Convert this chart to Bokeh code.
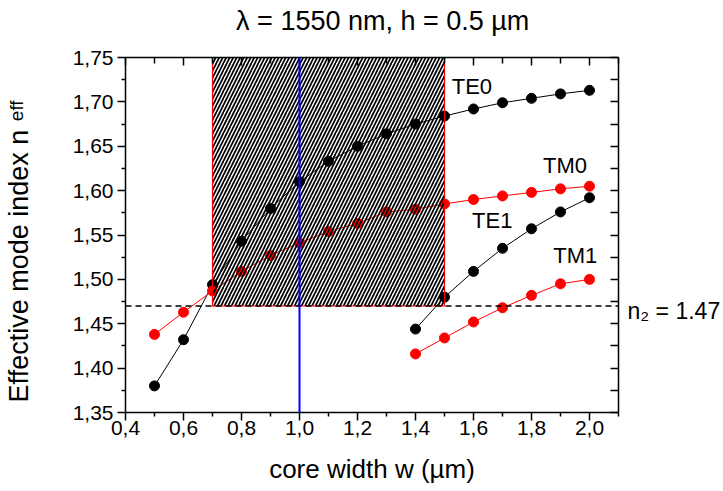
from bokeh.plotting import figure
from bokeh.models import LinearAxis, FixedTicker, CustomJSTickFormatter, Span, Label
from bokeh.embed import file_html
from bokeh.resources import INLINE

# ---------------- data ----------------
w_all = [0.5, 0.6, 0.7, 0.8, 0.9, 1.0, 1.1, 1.2, 1.3, 1.4, 1.5, 1.6, 1.7, 1.8, 1.9, 2.0]
te0 = [1.380, 1.432, 1.494, 1.543, 1.580, 1.610, 1.633, 1.650, 1.664, 1.675, 1.684, 1.692, 1.699, 1.704, 1.709, 1.713]
tm0 = [1.438, 1.463, 1.487, 1.509, 1.527, 1.541, 1.554, 1.563, 1.576, 1.579, 1.585, 1.590, 1.594, 1.598, 1.602, 1.605]
w_high = [1.4, 1.5, 1.6, 1.7, 1.8, 1.9, 2.0]
te1 = [1.444, 1.480, 1.509, 1.535, 1.557, 1.576, 1.592]
tm1 = [1.416, 1.434, 1.452, 1.468, 1.482, 1.495, 1.500]

x_ticks = [0.4, 0.6, 0.8, 1.0, 1.2, 1.4, 1.6, 1.8, 2.0]
x_minor = [0.5, 0.7, 0.9, 1.1, 1.3, 1.5, 1.7, 1.9, 2.1]
y_ticks = [1.35, 1.40, 1.45, 1.50, 1.55, 1.60, 1.65, 1.70, 1.75]
y_minor = [1.375, 1.425, 1.475, 1.525, 1.575, 1.625, 1.675, 1.725]

band_w = [0.7, 1.5]          # single-mode width window
band_n = [1.47, 1.75]
n2 = 1.47                    # cladding index
w_design = 1.0               # chosen width

title_text = "λ = 1550 nm, h = 0.5 µm"
xlabel = "core width w (µm)"
ylabel_main = "Effective mode index n"
ylabel_sub = "eff"
n2_text = "n₂ = 1.47"
mode_names = ["TE0", "TM0", "TE1", "TM1"]
mode_label_x = [1.525, 1.84, 1.595, 1.875]
mode_label_y = [1.717, 1.628, 1.566, 1.527]

# anchor positions of the side texts (in axis units)
title_at = 1.287
ylabel_main_at = 1.515
ylabel_sub_at = 1.690
n2_label_at = 1.464

FONT = "Liberation Sans"
RED = "#ff0000"

p = figure(width=723, height=491, x_range=(0.4, 2.1), y_range=(1.35, 1.75),
           output_backend="svg", toolbar_location=None,
           min_border_left=125, min_border_right=98, min_border_top=57, min_border_bottom=79)
p.outline_line_color = None
p.grid.visible = False
p.background_fill_color = "white"
p.border_fill_color = "white"

fmt_x = CustomJSTickFormatter(code="return tick.toFixed(1).replace('.', ',')")
fmt_y = CustomJSTickFormatter(code="return tick.toFixed(2).replace('.', ',')")
fmt_none = CustomJSTickFormatter(code="return ''")

def fixed_text(t):
    return CustomJSTickFormatter(args=dict(t=t), code="return t")

def style(ax, ticks, minor, fmt, inward):
    ax.ticker = FixedTicker(ticks=ticks, minor_ticks=minor)
    ax.formatter = fmt
    ax.axis_line_color = "black"
    ax.axis_line_width = 1.5
    ax.major_tick_line_color = "black"
    ax.major_tick_line_width = 1.5
    ax.minor_tick_line_color = "black"
    ax.minor_tick_line_width = 1.5
    if inward:
        ax.major_tick_in = 8
        ax.major_tick_out = 0
        ax.minor_tick_in = 6
        ax.minor_tick_out = 0
        ax.major_label_standoff = 0
    else:
        ax.major_tick_in = 0
        ax.major_tick_out = 8
        ax.minor_tick_in = 0
        ax.minor_tick_out = 4
    ax.major_label_text_font = FONT
    ax.major_label_text_font_size = "21px"
    ax.major_label_text_color = "black"

def text_axis(at, text, size, standoff, orientation):
    ax = LinearAxis(ticker=FixedTicker(ticks=[at], minor_ticks=[]), formatter=fixed_text(text))
    ax.axis_line_color = None
    ax.major_tick_line_color = None
    ax.minor_tick_line_color = None
    ax.major_tick_in = 0
    ax.major_tick_out = 0
    ax.major_label_orientation = orientation
    ax.major_label_standoff = standoff
    ax.major_label_text_font = FONT
    ax.major_label_text_font_size = size
    ax.major_label_text_color = "black"
    return ax

xa = p.xaxis[0]
ya = p.yaxis[0]
style(xa, x_ticks, x_minor, fmt_x, False)
style(ya, y_ticks, y_minor, fmt_y, False)
xa.major_label_standoff = 0
ya.major_label_standoff = 4
xa.axis_label = xlabel
xa.axis_label_text_font = FONT
xa.axis_label_text_font_size = "26px"
xa.axis_label_text_font_style = "normal"
xa.axis_label_text_color = "black"
xa.axis_label_standoff = 16

top = LinearAxis()
style(top, x_ticks, x_minor, fmt_none, True)
p.add_layout(top, "above")
# chart title as a text-only axis above the frame
p.add_layout(text_axis(title_at, title_text, "27px", 22, "horizontal"), "above")

# right axis: minor ticks carry the mirrored tick marks, the single major tick the n2 label
right = LinearAxis()
style(right, [n2_label_at], sorted(y_ticks + y_minor), fixed_text(n2_text), True)
right.major_tick_in = 0
right.minor_tick_in = 8
right.major_label_standoff = 9
right.major_label_text_font_size = "23px"
p.add_layout(right, "right")

# y axis title "Effective mode index n_eff" built from two text-only axes
p.add_layout(text_axis(ylabel_sub_at, ylabel_sub, "19px", 43, "vertical"), "left")
p.add_layout(text_axis(ylabel_main_at, ylabel_main, "27px", -31, "vertical"), "left")

# ---------------- curves ----------------
p.line(w_all, te0, line_color="black", line_width=1)
p.scatter(w_all, te0, size=10, fill_color="black", line_color="black")
p.line(w_all, tm0, line_color=RED, line_width=1)
p.scatter(w_all, tm0, size=10, fill_color=RED, line_color=RED)
p.line(w_high, te1, line_color="black", line_width=1)
p.scatter(w_high, te1, size=10, fill_color="black", line_color="black")
p.line(w_high, tm1, line_color=RED, line_width=1)
p.scatter(w_high, tm1, size=10, fill_color=RED, line_color=RED)

# hatched single-mode window
p.quad(left=[band_w[0]], right=[band_w[1]], bottom=[band_n[0]], top=[band_n[1]],
       fill_alpha=0, line_color=RED, line_width=1.2,
       hatch_pattern="/", hatch_color="black", hatch_scale=7, hatch_weight=1.7)

p.add_layout(Span(location=n2, dimension="width", line_color="black",
                  line_width=1.5, line_dash="6 4"))
p.add_layout(Span(location=w_design, dimension="height", line_color="#0000ff",
                  line_width=2))

for name, lx, ly in zip(mode_names, mode_label_x, mode_label_y):
    p.add_layout(Label(x=lx, y=ly, text=name, text_font=FONT, text_font_size="22px",
                       text_color="black", text_baseline="middle", text_align="left"))

open("out.html", "w").write(file_html(p, INLINE))
